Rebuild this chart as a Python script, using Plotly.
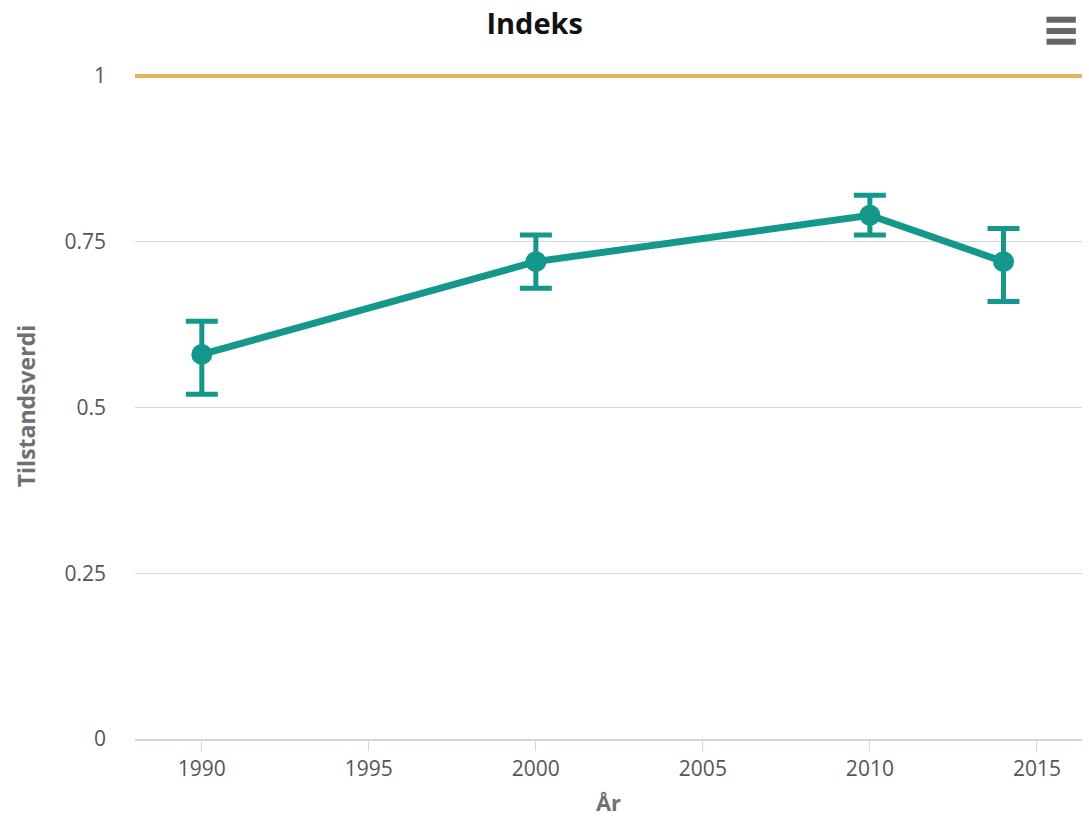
import plotly.graph_objects as go

years = [1990, 2000, 2010, 2014]
values = [0.58, 0.72, 0.79, 0.72]
upper = [0.63, 0.76, 0.82, 0.77]
lower = [0.52, 0.68, 0.76, 0.66]
reference_value = 1.0

y_ticks = [0, 0.25, 0.5, 0.75, 1]
y_tick_labels = ["0", "0.25", "0.5", "0.75", "1"]
x_ticks = [1990, 1995, 2000, 2005, 2010, 2015]

teal = "#14988b"
err_plus = [u - v for u, v in zip(upper, values)]
err_minus = [v - l for v, l in zip(values, lower)]

fig = go.Figure()
fig.add_hline(y=reference_value, line=dict(color="#e4b15a", width=4), layer="above")
fig.add_trace(go.Scatter(
    x=years, y=values, mode="lines+markers",
    line=dict(color=teal, width=7),
    marker=dict(color=teal, size=21),
    error_y=dict(type="data", symmetric=False, array=err_plus, arrayminus=err_minus,
                 color=teal, thickness=5, width=16),
    showlegend=False, hoverinfo="x+y",
))

# hamburger menu icon
for yy in [1.080, 1.063, 1.047]:
    fig.add_shape(type="line", xref="paper", yref="paper",
                  x0=0.9625, x1=0.9935, y0=yy, y1=yy,
                  line=dict(color="#666666", width=6))

font = "Open Sans, Noto Sans, sans-serif"
fig.update_layout(
    width=1089, height=836,
    margin=dict(l=135, r=7, t=73, b=97),
    paper_bgcolor="white", plot_bgcolor="white",
    font=dict(family=font, color="#666666", size=21),
    title=dict(text="<b>Indeks</b>", x=0.491, xanchor="center", y=0.972, yanchor="middle",
               font=dict(size=29, color="#111111", family=font)),
    xaxis=dict(range=[1988.0, 2016.35], tickvals=x_ticks, showgrid=False,
               showline=True, linecolor="#ccd6eb", linewidth=2,
               ticks="outside", ticklen=10, tickcolor="#ccd6eb", tickwidth=1,
               tickfont=dict(size=21, color="#555555"),
               title=dict(text="<b>År</b>", font=dict(size=22, color="#707070"), standoff=14),
               zeroline=False),
    yaxis=dict(range=[0, 1.0045], tickvals=y_ticks, ticktext=y_tick_labels,
               showgrid=True, gridcolor="#d5d5d5", gridwidth=1,
               showline=False, zeroline=False, ticks="", ticklabelstandoff=28,
               tickfont=dict(size=21, color="#555555"),
               title=dict(text="<b>Tilstandsverdi</b>", font=dict(size=23, color="#707070"), standoff=22)),
)

fig.write_html("out.html")
